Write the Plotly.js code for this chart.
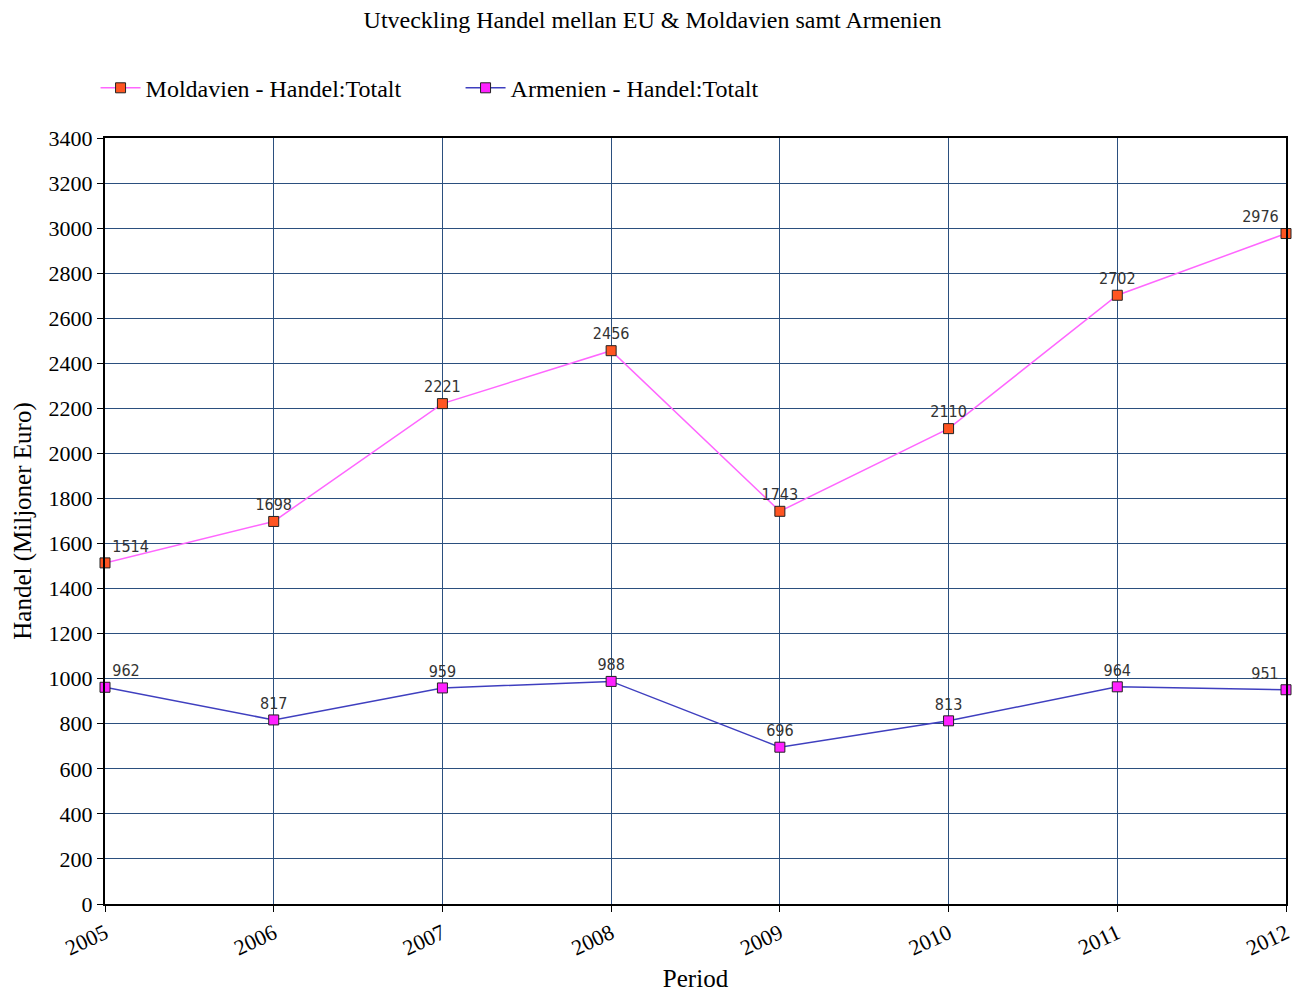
<!DOCTYPE html>
<html><head><meta charset="utf-8">
<script src="https://cdn.plot.ly/plotly-3.0.1.min.js"></script>
<style>html,body{margin:0;padding:0;background:#fff}#chart{width:1305px;height:992px}</style>
</head><body><div id="chart"></div>
<script>
const years = ['2005','2006','2007','2008','2009','2010','2011','2012'];
const moldavien = [1514,1698,2221,2456,1743,2110,2702,2976];
const armenien = [962,817,959,988,696,813,964,951];
const seriesNames = ['Moldavien - Handel:Totalt','Armenien - Handel:Totalt'];

const serif = 'Liberation Serif, Times New Roman, serif';
const labelFont = {family:'DejaVu Sans Condensed, DejaVu Sans, sans-serif', size:16, color:'#333'};
function pos(n){ return years.map((_,i)=> i===0 ? 'top right' : (i===n-1 ? 'top left' : 'top center')); }

const xs = years.map(Number);
const traces = [
  {x:xs, y:moldavien, name:seriesNames[0], type:'scatter', mode:'lines+markers+text',
   line:{color:'#ff66ff', width:1.5},
   marker:{symbol:'square', size:10, color:'#ff5522', line:{color:'#222', width:1}},
   text:moldavien.map(String), textposition:pos(years.length), textfont:labelFont, cliponaxis:false},
  {x:xs, y:armenien, name:seriesNames[1], type:'scatter', mode:'lines+markers+text',
   line:{color:'#3f3fbf', width:1.5},
   marker:{symbol:'square', size:10, color:'#ff22ff', line:{color:'#222', width:1}},
   text:armenien.map(String), textposition:pos(years.length), textfont:labelFont, cliponaxis:false}
];

const layout = {
  width:1305, height:992,
  margin:{l:105, r:19, t:138, b:88},
  paper_bgcolor:'#fff', plot_bgcolor:'#fff',
  font:{family:serif, size:22, color:'#000'},
  title:{text:'Utveckling Handel mellan EU &amp; Moldavien samt Armenien', x:0.5, xanchor:'center', y:0.980, yanchor:'middle', font:{family:serif, size:24, color:'#000'}},
  showlegend:true,
  legend:{orientation:'h', x:-0.008, xanchor:'left', y:1.065, yanchor:'middle',
    font:{family:serif, size:24, color:'#000'}, entrywidth:310, entrywidthmode:'pixels', itemwidth:40, bgcolor:'rgba(0,0,0,0)'},
  xaxis:{range:[2005,2012], tickmode:'array', tickvals:xs, ticktext:years, tickangle:-25,
    showgrid:true, gridcolor:'#2b4f7e', gridwidth:1, zeroline:false,
    showline:true, linecolor:'#000', linewidth:2, mirror:true,
    ticks:'outside', ticklen:6, tickcolor:'#000',
    tickfont:{family:serif, size:22, color:'#000'},
    title:{text:'Period', font:{family:serif, size:25, color:'#000'}, standoff:12}},
  yaxis:{range:[0,3400], dtick:200, tick0:0,
    showgrid:true, gridcolor:'#2b4f7e', gridwidth:1, zeroline:false,
    showline:true, linecolor:'#000', linewidth:2, mirror:true,
    ticks:'outside', ticklen:6, tickcolor:'#000',
    tickfont:{family:serif, size:22, color:'#000'},
    title:{text:'Handel (Miljoner Euro)', font:{family:serif, size:25, color:'#000'}, standoff:10}}
};
Plotly.newPlot('chart', traces, layout, {displayModeBar:false});
</script></body></html>
